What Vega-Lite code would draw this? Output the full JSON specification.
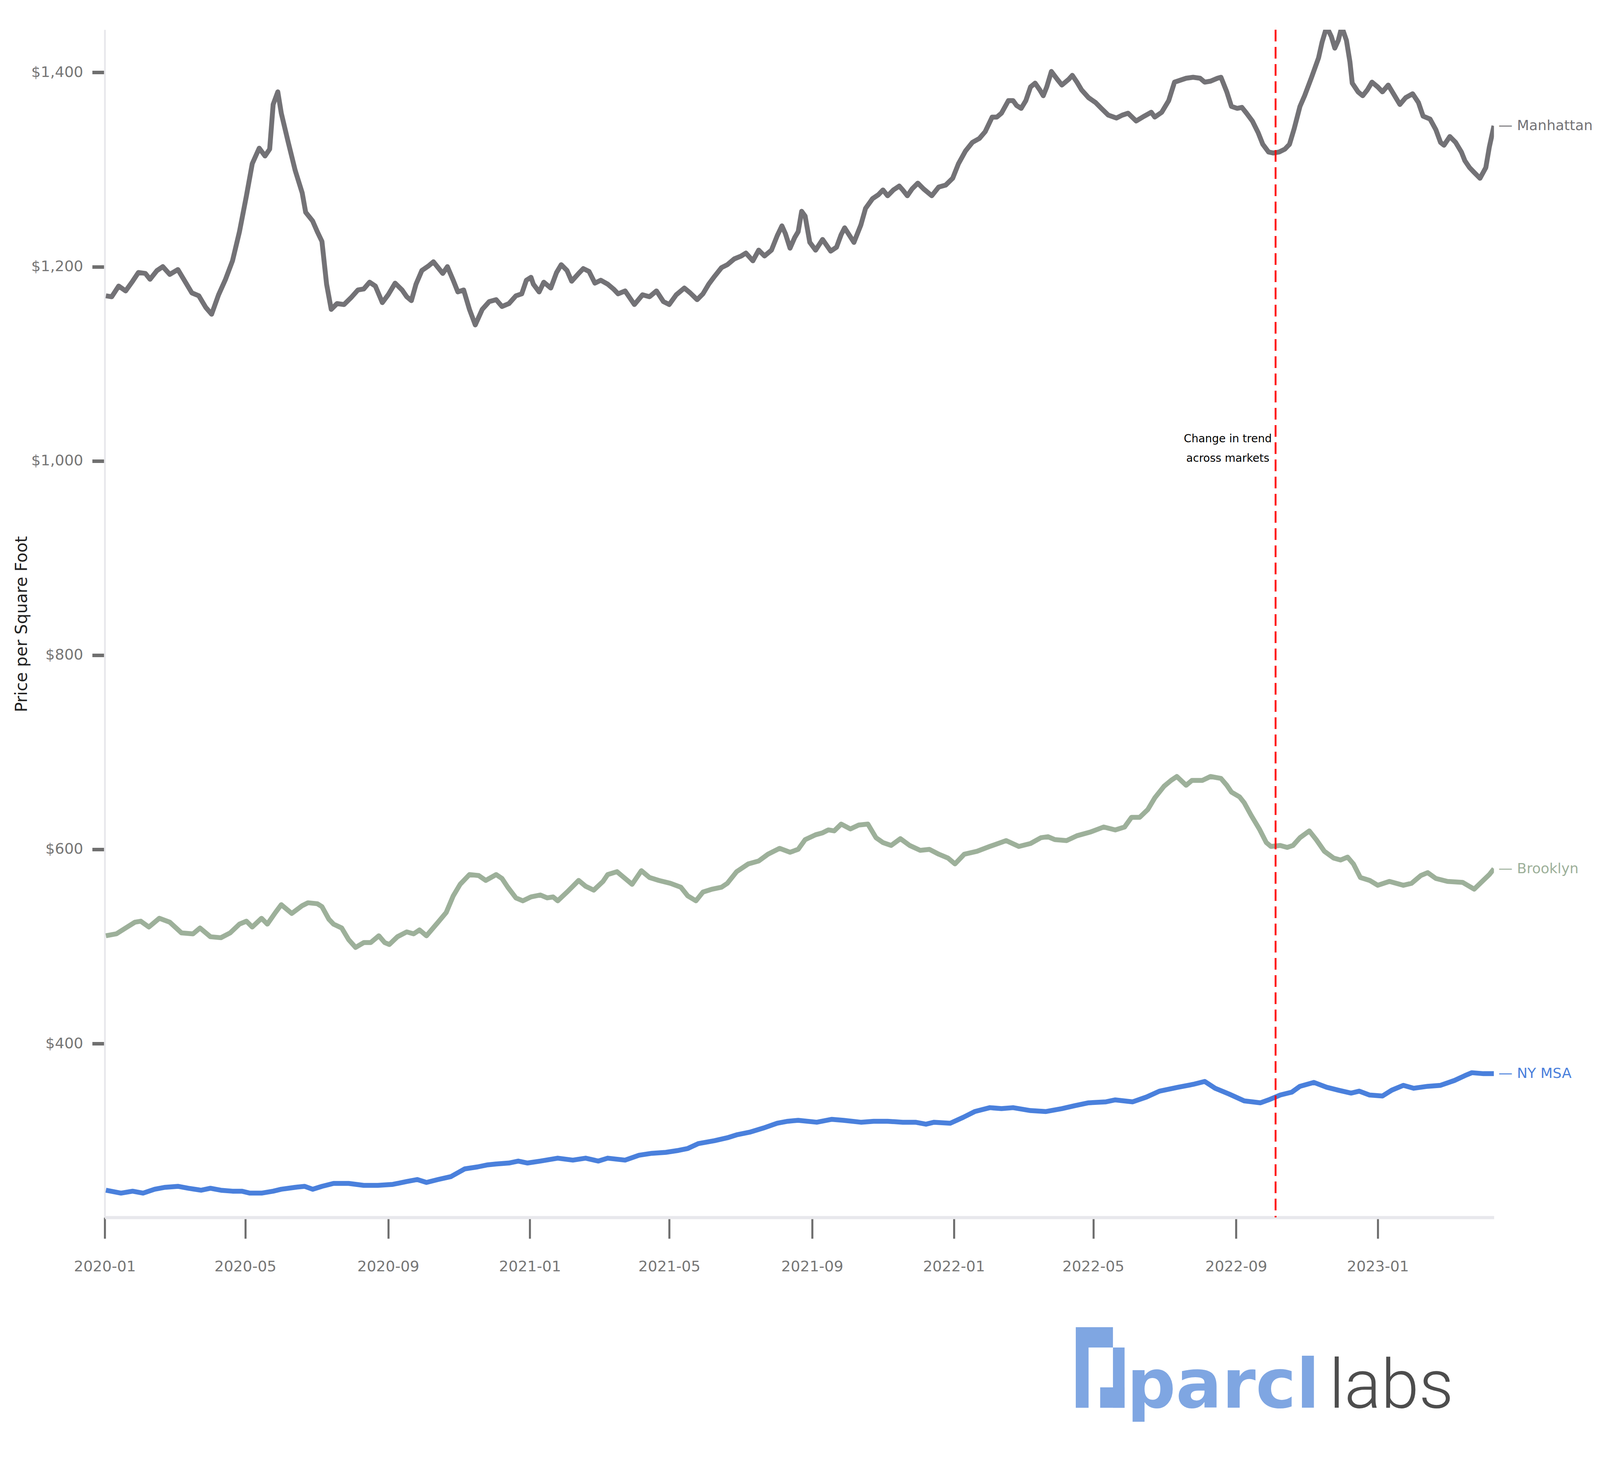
{
  "$schema": "https://vega.github.io/schema/vega-lite/v6.json",
  "width": 3556.4,
  "height": 3040,
  "autosize": "none",
  "padding": {"left": 268.1, "top": 76, "right": 271.5, "bottom": 667},
  "background": "white",
  "datasets": {
    "prices": [
      {"market": "Manhattan", "date": "2020-01-02", "price": 1170},
      {"market": "Manhattan", "date": "2020-01-07", "price": 1169},
      {"market": "Manhattan", "date": "2020-01-13", "price": 1180},
      {"market": "Manhattan", "date": "2020-01-19", "price": 1175},
      {"market": "Manhattan", "date": "2020-01-25", "price": 1185},
      {"market": "Manhattan", "date": "2020-01-30", "price": 1194},
      {"market": "Manhattan", "date": "2020-02-05", "price": 1193},
      {"market": "Manhattan", "date": "2020-02-09", "price": 1187},
      {"market": "Manhattan", "date": "2020-02-15", "price": 1196},
      {"market": "Manhattan", "date": "2020-02-20", "price": 1200},
      {"market": "Manhattan", "date": "2020-02-26", "price": 1192},
      {"market": "Manhattan", "date": "2020-03-04", "price": 1197},
      {"market": "Manhattan", "date": "2020-03-11", "price": 1183},
      {"market": "Manhattan", "date": "2020-03-16", "price": 1173},
      {"market": "Manhattan", "date": "2020-03-22", "price": 1170},
      {"market": "Manhattan", "date": "2020-03-28", "price": 1158},
      {"market": "Manhattan", "date": "2020-04-02", "price": 1151},
      {"market": "Manhattan", "date": "2020-04-08", "price": 1171},
      {"market": "Manhattan", "date": "2020-04-14", "price": 1187},
      {"market": "Manhattan", "date": "2020-04-20", "price": 1206},
      {"market": "Manhattan", "date": "2020-04-26", "price": 1236},
      {"market": "Manhattan", "date": "2020-05-02", "price": 1273},
      {"market": "Manhattan", "date": "2020-05-07", "price": 1306},
      {"market": "Manhattan", "date": "2020-05-13", "price": 1322},
      {"market": "Manhattan", "date": "2020-05-18", "price": 1314},
      {"market": "Manhattan", "date": "2020-05-22", "price": 1321},
      {"market": "Manhattan", "date": "2020-05-25", "price": 1367},
      {"market": "Manhattan", "date": "2020-05-29", "price": 1380},
      {"market": "Manhattan", "date": "2020-06-01", "price": 1358},
      {"market": "Manhattan", "date": "2020-06-07", "price": 1328},
      {"market": "Manhattan", "date": "2020-06-13", "price": 1299},
      {"market": "Manhattan", "date": "2020-06-19", "price": 1276},
      {"market": "Manhattan", "date": "2020-06-22", "price": 1256},
      {"market": "Manhattan", "date": "2020-06-28", "price": 1247},
      {"market": "Manhattan", "date": "2020-07-02", "price": 1236},
      {"market": "Manhattan", "date": "2020-07-06", "price": 1226},
      {"market": "Manhattan", "date": "2020-07-10", "price": 1182},
      {"market": "Manhattan", "date": "2020-07-14", "price": 1156},
      {"market": "Manhattan", "date": "2020-07-19", "price": 1162},
      {"market": "Manhattan", "date": "2020-07-25", "price": 1161},
      {"market": "Manhattan", "date": "2020-07-31", "price": 1168},
      {"market": "Manhattan", "date": "2020-08-06", "price": 1176},
      {"market": "Manhattan", "date": "2020-08-11", "price": 1177},
      {"market": "Manhattan", "date": "2020-08-16", "price": 1184},
      {"market": "Manhattan", "date": "2020-08-21", "price": 1180},
      {"market": "Manhattan", "date": "2020-08-27", "price": 1163},
      {"market": "Manhattan", "date": "2020-09-01", "price": 1171},
      {"market": "Manhattan", "date": "2020-09-07", "price": 1183},
      {"market": "Manhattan", "date": "2020-09-13", "price": 1176},
      {"market": "Manhattan", "date": "2020-09-17", "price": 1169},
      {"market": "Manhattan", "date": "2020-09-21", "price": 1165},
      {"market": "Manhattan", "date": "2020-09-25", "price": 1182},
      {"market": "Manhattan", "date": "2020-09-30", "price": 1196},
      {"market": "Manhattan", "date": "2020-10-06", "price": 1201},
      {"market": "Manhattan", "date": "2020-10-10", "price": 1205},
      {"market": "Manhattan", "date": "2020-10-14", "price": 1199},
      {"market": "Manhattan", "date": "2020-10-18", "price": 1193},
      {"market": "Manhattan", "date": "2020-10-22", "price": 1200},
      {"market": "Manhattan", "date": "2020-10-27", "price": 1186},
      {"market": "Manhattan", "date": "2020-10-31", "price": 1174},
      {"market": "Manhattan", "date": "2020-11-05", "price": 1176},
      {"market": "Manhattan", "date": "2020-11-10", "price": 1156},
      {"market": "Manhattan", "date": "2020-11-15", "price": 1140},
      {"market": "Manhattan", "date": "2020-11-21", "price": 1156},
      {"market": "Manhattan", "date": "2020-11-27", "price": 1164},
      {"market": "Manhattan", "date": "2020-12-03", "price": 1166},
      {"market": "Manhattan", "date": "2020-12-08", "price": 1159},
      {"market": "Manhattan", "date": "2020-12-14", "price": 1162},
      {"market": "Manhattan", "date": "2020-12-20", "price": 1170},
      {"market": "Manhattan", "date": "2020-12-25", "price": 1172},
      {"market": "Manhattan", "date": "2020-12-29", "price": 1186},
      {"market": "Manhattan", "date": "2021-01-02", "price": 1189},
      {"market": "Manhattan", "date": "2021-01-04", "price": 1182},
      {"market": "Manhattan", "date": "2021-01-09", "price": 1174},
      {"market": "Manhattan", "date": "2021-01-13", "price": 1184},
      {"market": "Manhattan", "date": "2021-01-19", "price": 1178},
      {"market": "Manhattan", "date": "2021-01-24", "price": 1194},
      {"market": "Manhattan", "date": "2021-01-28", "price": 1202},
      {"market": "Manhattan", "date": "2021-02-02", "price": 1196},
      {"market": "Manhattan", "date": "2021-02-06", "price": 1185},
      {"market": "Manhattan", "date": "2021-02-12", "price": 1193},
      {"market": "Manhattan", "date": "2021-02-16", "price": 1198},
      {"market": "Manhattan", "date": "2021-02-21", "price": 1195},
      {"market": "Manhattan", "date": "2021-02-26", "price": 1183},
      {"market": "Manhattan", "date": "2021-03-03", "price": 1186},
      {"market": "Manhattan", "date": "2021-03-09", "price": 1182},
      {"market": "Manhattan", "date": "2021-03-14", "price": 1177},
      {"market": "Manhattan", "date": "2021-03-18", "price": 1172},
      {"market": "Manhattan", "date": "2021-03-24", "price": 1175},
      {"market": "Manhattan", "date": "2021-04-01", "price": 1161},
      {"market": "Manhattan", "date": "2021-04-08", "price": 1171},
      {"market": "Manhattan", "date": "2021-04-14", "price": 1169},
      {"market": "Manhattan", "date": "2021-04-20", "price": 1175},
      {"market": "Manhattan", "date": "2021-04-26", "price": 1164},
      {"market": "Manhattan", "date": "2021-05-01", "price": 1161},
      {"market": "Manhattan", "date": "2021-05-07", "price": 1171},
      {"market": "Manhattan", "date": "2021-05-14", "price": 1178},
      {"market": "Manhattan", "date": "2021-05-19", "price": 1173},
      {"market": "Manhattan", "date": "2021-05-25", "price": 1166},
      {"market": "Manhattan", "date": "2021-05-30", "price": 1172},
      {"market": "Manhattan", "date": "2021-06-04", "price": 1182},
      {"market": "Manhattan", "date": "2021-06-09", "price": 1190},
      {"market": "Manhattan", "date": "2021-06-15", "price": 1199},
      {"market": "Manhattan", "date": "2021-06-20", "price": 1202},
      {"market": "Manhattan", "date": "2021-06-26", "price": 1208},
      {"market": "Manhattan", "date": "2021-07-02", "price": 1211},
      {"market": "Manhattan", "date": "2021-07-06", "price": 1214},
      {"market": "Manhattan", "date": "2021-07-12", "price": 1206},
      {"market": "Manhattan", "date": "2021-07-17", "price": 1217},
      {"market": "Manhattan", "date": "2021-07-22", "price": 1211},
      {"market": "Manhattan", "date": "2021-07-28", "price": 1217},
      {"market": "Manhattan", "date": "2021-08-02", "price": 1232},
      {"market": "Manhattan", "date": "2021-08-06", "price": 1242},
      {"market": "Manhattan", "date": "2021-08-09", "price": 1234},
      {"market": "Manhattan", "date": "2021-08-13", "price": 1219},
      {"market": "Manhattan", "date": "2021-08-17", "price": 1230},
      {"market": "Manhattan", "date": "2021-08-20", "price": 1236},
      {"market": "Manhattan", "date": "2021-08-23", "price": 1257},
      {"market": "Manhattan", "date": "2021-08-26", "price": 1252},
      {"market": "Manhattan", "date": "2021-08-30", "price": 1225},
      {"market": "Manhattan", "date": "2021-09-04", "price": 1217},
      {"market": "Manhattan", "date": "2021-09-10", "price": 1228},
      {"market": "Manhattan", "date": "2021-09-17", "price": 1216},
      {"market": "Manhattan", "date": "2021-09-22", "price": 1220},
      {"market": "Manhattan", "date": "2021-09-26", "price": 1233},
      {"market": "Manhattan", "date": "2021-09-29", "price": 1240},
      {"market": "Manhattan", "date": "2021-10-07", "price": 1225},
      {"market": "Manhattan", "date": "2021-10-13", "price": 1243},
      {"market": "Manhattan", "date": "2021-10-17", "price": 1260},
      {"market": "Manhattan", "date": "2021-10-23", "price": 1270},
      {"market": "Manhattan", "date": "2021-10-28", "price": 1274},
      {"market": "Manhattan", "date": "2021-11-01", "price": 1279},
      {"market": "Manhattan", "date": "2021-11-05", "price": 1273},
      {"market": "Manhattan", "date": "2021-11-10", "price": 1279},
      {"market": "Manhattan", "date": "2021-11-15", "price": 1283},
      {"market": "Manhattan", "date": "2021-11-18", "price": 1279},
      {"market": "Manhattan", "date": "2021-11-22", "price": 1273},
      {"market": "Manhattan", "date": "2021-11-26", "price": 1280},
      {"market": "Manhattan", "date": "2021-12-01", "price": 1286},
      {"market": "Manhattan", "date": "2021-12-06", "price": 1280},
      {"market": "Manhattan", "date": "2021-12-13", "price": 1273},
      {"market": "Manhattan", "date": "2021-12-19", "price": 1282},
      {"market": "Manhattan", "date": "2021-12-25", "price": 1284},
      {"market": "Manhattan", "date": "2021-12-31", "price": 1291},
      {"market": "Manhattan", "date": "2022-01-05", "price": 1306},
      {"market": "Manhattan", "date": "2022-01-11", "price": 1319},
      {"market": "Manhattan", "date": "2022-01-17", "price": 1328},
      {"market": "Manhattan", "date": "2022-01-23", "price": 1332},
      {"market": "Manhattan", "date": "2022-01-28", "price": 1339},
      {"market": "Manhattan", "date": "2022-02-03", "price": 1354},
      {"market": "Manhattan", "date": "2022-02-07", "price": 1354},
      {"market": "Manhattan", "date": "2022-02-11", "price": 1358},
      {"market": "Manhattan", "date": "2022-02-17", "price": 1371},
      {"market": "Manhattan", "date": "2022-02-21", "price": 1371},
      {"market": "Manhattan", "date": "2022-02-24", "price": 1366},
      {"market": "Manhattan", "date": "2022-02-28", "price": 1363},
      {"market": "Manhattan", "date": "2022-03-04", "price": 1371},
      {"market": "Manhattan", "date": "2022-03-08", "price": 1385},
      {"market": "Manhattan", "date": "2022-03-12", "price": 1389},
      {"market": "Manhattan", "date": "2022-03-16", "price": 1382},
      {"market": "Manhattan", "date": "2022-03-19", "price": 1376},
      {"market": "Manhattan", "date": "2022-03-22", "price": 1385},
      {"market": "Manhattan", "date": "2022-03-26", "price": 1401},
      {"market": "Manhattan", "date": "2022-03-31", "price": 1393},
      {"market": "Manhattan", "date": "2022-04-04", "price": 1387},
      {"market": "Manhattan", "date": "2022-04-10", "price": 1393},
      {"market": "Manhattan", "date": "2022-04-13", "price": 1397},
      {"market": "Manhattan", "date": "2022-04-17", "price": 1390},
      {"market": "Manhattan", "date": "2022-04-21", "price": 1382},
      {"market": "Manhattan", "date": "2022-04-27", "price": 1374},
      {"market": "Manhattan", "date": "2022-05-03", "price": 1369},
      {"market": "Manhattan", "date": "2022-05-08", "price": 1363},
      {"market": "Manhattan", "date": "2022-05-14", "price": 1356},
      {"market": "Manhattan", "date": "2022-05-21", "price": 1353},
      {"market": "Manhattan", "date": "2022-05-26", "price": 1356},
      {"market": "Manhattan", "date": "2022-05-31", "price": 1358},
      {"market": "Manhattan", "date": "2022-06-07", "price": 1350},
      {"market": "Manhattan", "date": "2022-06-14", "price": 1355},
      {"market": "Manhattan", "date": "2022-06-20", "price": 1359},
      {"market": "Manhattan", "date": "2022-06-23", "price": 1354},
      {"market": "Manhattan", "date": "2022-06-29", "price": 1359},
      {"market": "Manhattan", "date": "2022-07-05", "price": 1371},
      {"market": "Manhattan", "date": "2022-07-10", "price": 1390},
      {"market": "Manhattan", "date": "2022-07-15", "price": 1392},
      {"market": "Manhattan", "date": "2022-07-20", "price": 1394},
      {"market": "Manhattan", "date": "2022-07-26", "price": 1395},
      {"market": "Manhattan", "date": "2022-08-01", "price": 1394},
      {"market": "Manhattan", "date": "2022-08-05", "price": 1390},
      {"market": "Manhattan", "date": "2022-08-10", "price": 1391},
      {"market": "Manhattan", "date": "2022-08-16", "price": 1394},
      {"market": "Manhattan", "date": "2022-08-19", "price": 1395},
      {"market": "Manhattan", "date": "2022-08-24", "price": 1380},
      {"market": "Manhattan", "date": "2022-08-28", "price": 1365},
      {"market": "Manhattan", "date": "2022-09-02", "price": 1363},
      {"market": "Manhattan", "date": "2022-09-06", "price": 1364},
      {"market": "Manhattan", "date": "2022-09-10", "price": 1358},
      {"market": "Manhattan", "date": "2022-09-15", "price": 1350},
      {"market": "Manhattan", "date": "2022-09-20", "price": 1338},
      {"market": "Manhattan", "date": "2022-09-24", "price": 1326},
      {"market": "Manhattan", "date": "2022-09-29", "price": 1318},
      {"market": "Manhattan", "date": "2022-10-03", "price": 1317},
      {"market": "Manhattan", "date": "2022-10-08", "price": 1318},
      {"market": "Manhattan", "date": "2022-10-13", "price": 1321},
      {"market": "Manhattan", "date": "2022-10-17", "price": 1326},
      {"market": "Manhattan", "date": "2022-10-21", "price": 1342},
      {"market": "Manhattan", "date": "2022-10-26", "price": 1365},
      {"market": "Manhattan", "date": "2022-10-30", "price": 1376},
      {"market": "Manhattan", "date": "2022-11-05", "price": 1395},
      {"market": "Manhattan", "date": "2022-11-11", "price": 1415},
      {"market": "Manhattan", "date": "2022-11-14", "price": 1431},
      {"market": "Manhattan", "date": "2022-11-18", "price": 1447},
      {"market": "Manhattan", "date": "2022-11-22", "price": 1437},
      {"market": "Manhattan", "date": "2022-11-25", "price": 1425},
      {"market": "Manhattan", "date": "2022-11-28", "price": 1433},
      {"market": "Manhattan", "date": "2022-12-01", "price": 1447},
      {"market": "Manhattan", "date": "2022-12-05", "price": 1433},
      {"market": "Manhattan", "date": "2022-12-08", "price": 1411},
      {"market": "Manhattan", "date": "2022-12-10", "price": 1389},
      {"market": "Manhattan", "date": "2022-12-15", "price": 1380},
      {"market": "Manhattan", "date": "2022-12-19", "price": 1376},
      {"market": "Manhattan", "date": "2022-12-23", "price": 1382},
      {"market": "Manhattan", "date": "2022-12-27", "price": 1390},
      {"market": "Manhattan", "date": "2023-01-01", "price": 1385},
      {"market": "Manhattan", "date": "2023-01-05", "price": 1380},
      {"market": "Manhattan", "date": "2023-01-10", "price": 1387},
      {"market": "Manhattan", "date": "2023-01-15", "price": 1377},
      {"market": "Manhattan", "date": "2023-01-20", "price": 1367},
      {"market": "Manhattan", "date": "2023-01-25", "price": 1374},
      {"market": "Manhattan", "date": "2023-01-31", "price": 1378},
      {"market": "Manhattan", "date": "2023-02-05", "price": 1369},
      {"market": "Manhattan", "date": "2023-02-09", "price": 1355},
      {"market": "Manhattan", "date": "2023-02-15", "price": 1352},
      {"market": "Manhattan", "date": "2023-02-20", "price": 1341},
      {"market": "Manhattan", "date": "2023-02-24", "price": 1328},
      {"market": "Manhattan", "date": "2023-02-27", "price": 1325},
      {"market": "Manhattan", "date": "2023-03-04", "price": 1334},
      {"market": "Manhattan", "date": "2023-03-09", "price": 1328},
      {"market": "Manhattan", "date": "2023-03-14", "price": 1318},
      {"market": "Manhattan", "date": "2023-03-17", "price": 1309},
      {"market": "Manhattan", "date": "2023-03-21", "price": 1302},
      {"market": "Manhattan", "date": "2023-03-25", "price": 1297},
      {"market": "Manhattan", "date": "2023-03-30", "price": 1291},
      {"market": "Manhattan", "date": "2023-04-04", "price": 1302},
      {"market": "Manhattan", "date": "2023-04-07", "price": 1323},
      {"market": "Manhattan", "date": "2023-04-11", "price": 1345},
      {"market": "Brooklyn", "date": "2020-01-02", "price": 511},
      {"market": "Brooklyn", "date": "2020-01-11", "price": 513},
      {"market": "Brooklyn", "date": "2020-01-19", "price": 519},
      {"market": "Brooklyn", "date": "2020-01-27", "price": 525},
      {"market": "Brooklyn", "date": "2020-02-01", "price": 526},
      {"market": "Brooklyn", "date": "2020-02-08", "price": 520},
      {"market": "Brooklyn", "date": "2020-02-17", "price": 529},
      {"market": "Brooklyn", "date": "2020-02-26", "price": 525},
      {"market": "Brooklyn", "date": "2020-03-07", "price": 514},
      {"market": "Brooklyn", "date": "2020-03-17", "price": 513},
      {"market": "Brooklyn", "date": "2020-03-23", "price": 519},
      {"market": "Brooklyn", "date": "2020-04-01", "price": 510},
      {"market": "Brooklyn", "date": "2020-04-10", "price": 509},
      {"market": "Brooklyn", "date": "2020-04-18", "price": 514},
      {"market": "Brooklyn", "date": "2020-04-26", "price": 523},
      {"market": "Brooklyn", "date": "2020-05-02", "price": 526},
      {"market": "Brooklyn", "date": "2020-05-07", "price": 520},
      {"market": "Brooklyn", "date": "2020-05-15", "price": 529},
      {"market": "Brooklyn", "date": "2020-05-20", "price": 523},
      {"market": "Brooklyn", "date": "2020-05-27", "price": 535},
      {"market": "Brooklyn", "date": "2020-06-01", "price": 543},
      {"market": "Brooklyn", "date": "2020-06-10", "price": 534},
      {"market": "Brooklyn", "date": "2020-06-19", "price": 542},
      {"market": "Brooklyn", "date": "2020-06-24", "price": 545},
      {"market": "Brooklyn", "date": "2020-07-02", "price": 544},
      {"market": "Brooklyn", "date": "2020-07-06", "price": 541},
      {"market": "Brooklyn", "date": "2020-07-12", "price": 528},
      {"market": "Brooklyn", "date": "2020-07-16", "price": 523},
      {"market": "Brooklyn", "date": "2020-07-23", "price": 519},
      {"market": "Brooklyn", "date": "2020-07-29", "price": 507},
      {"market": "Brooklyn", "date": "2020-08-04", "price": 499},
      {"market": "Brooklyn", "date": "2020-08-11", "price": 504},
      {"market": "Brooklyn", "date": "2020-08-17", "price": 504},
      {"market": "Brooklyn", "date": "2020-08-24", "price": 511},
      {"market": "Brooklyn", "date": "2020-08-29", "price": 504},
      {"market": "Brooklyn", "date": "2020-09-02", "price": 502},
      {"market": "Brooklyn", "date": "2020-09-09", "price": 510},
      {"market": "Brooklyn", "date": "2020-09-17", "price": 515},
      {"market": "Brooklyn", "date": "2020-09-23", "price": 513},
      {"market": "Brooklyn", "date": "2020-09-28", "price": 517},
      {"market": "Brooklyn", "date": "2020-10-04", "price": 511},
      {"market": "Brooklyn", "date": "2020-10-14", "price": 525},
      {"market": "Brooklyn", "date": "2020-10-21", "price": 535},
      {"market": "Brooklyn", "date": "2020-10-27", "price": 552},
      {"market": "Brooklyn", "date": "2020-11-02", "price": 564},
      {"market": "Brooklyn", "date": "2020-11-10", "price": 574},
      {"market": "Brooklyn", "date": "2020-11-18", "price": 573},
      {"market": "Brooklyn", "date": "2020-11-24", "price": 568},
      {"market": "Brooklyn", "date": "2020-12-03", "price": 574},
      {"market": "Brooklyn", "date": "2020-12-08", "price": 570},
      {"market": "Brooklyn", "date": "2020-12-13", "price": 561},
      {"market": "Brooklyn", "date": "2020-12-20", "price": 550},
      {"market": "Brooklyn", "date": "2020-12-26", "price": 547},
      {"market": "Brooklyn", "date": "2021-01-02", "price": 551},
      {"market": "Brooklyn", "date": "2021-01-10", "price": 553},
      {"market": "Brooklyn", "date": "2021-01-16", "price": 550},
      {"market": "Brooklyn", "date": "2021-01-21", "price": 551},
      {"market": "Brooklyn", "date": "2021-01-25", "price": 547},
      {"market": "Brooklyn", "date": "2021-02-02", "price": 556},
      {"market": "Brooklyn", "date": "2021-02-12", "price": 568},
      {"market": "Brooklyn", "date": "2021-02-18", "price": 562},
      {"market": "Brooklyn", "date": "2021-02-25", "price": 558},
      {"market": "Brooklyn", "date": "2021-03-05", "price": 567},
      {"market": "Brooklyn", "date": "2021-03-09", "price": 574},
      {"market": "Brooklyn", "date": "2021-03-17", "price": 577},
      {"market": "Brooklyn", "date": "2021-03-23", "price": 571},
      {"market": "Brooklyn", "date": "2021-03-30", "price": 564},
      {"market": "Brooklyn", "date": "2021-04-07", "price": 578},
      {"market": "Brooklyn", "date": "2021-04-14", "price": 571},
      {"market": "Brooklyn", "date": "2021-04-22", "price": 568},
      {"market": "Brooklyn", "date": "2021-05-02", "price": 565},
      {"market": "Brooklyn", "date": "2021-05-11", "price": 561},
      {"market": "Brooklyn", "date": "2021-05-17", "price": 552},
      {"market": "Brooklyn", "date": "2021-05-24", "price": 547},
      {"market": "Brooklyn", "date": "2021-05-30", "price": 556},
      {"market": "Brooklyn", "date": "2021-06-07", "price": 559},
      {"market": "Brooklyn", "date": "2021-06-15", "price": 561},
      {"market": "Brooklyn", "date": "2021-06-20", "price": 565},
      {"market": "Brooklyn", "date": "2021-06-28", "price": 577},
      {"market": "Brooklyn", "date": "2021-07-08", "price": 585},
      {"market": "Brooklyn", "date": "2021-07-17", "price": 588},
      {"market": "Brooklyn", "date": "2021-07-25", "price": 595},
      {"market": "Brooklyn", "date": "2021-08-04", "price": 601},
      {"market": "Brooklyn", "date": "2021-08-13", "price": 597},
      {"market": "Brooklyn", "date": "2021-08-20", "price": 600},
      {"market": "Brooklyn", "date": "2021-08-26", "price": 610},
      {"market": "Brooklyn", "date": "2021-09-04", "price": 615},
      {"market": "Brooklyn", "date": "2021-09-10", "price": 617},
      {"market": "Brooklyn", "date": "2021-09-15", "price": 620},
      {"market": "Brooklyn", "date": "2021-09-20", "price": 619},
      {"market": "Brooklyn", "date": "2021-09-26", "price": 626},
      {"market": "Brooklyn", "date": "2021-10-04", "price": 621},
      {"market": "Brooklyn", "date": "2021-10-11", "price": 625},
      {"market": "Brooklyn", "date": "2021-10-19", "price": 626},
      {"market": "Brooklyn", "date": "2021-10-26", "price": 612},
      {"market": "Brooklyn", "date": "2021-11-01", "price": 607},
      {"market": "Brooklyn", "date": "2021-11-08", "price": 604},
      {"market": "Brooklyn", "date": "2021-11-16", "price": 611},
      {"market": "Brooklyn", "date": "2021-11-24", "price": 604},
      {"market": "Brooklyn", "date": "2021-12-03", "price": 599},
      {"market": "Brooklyn", "date": "2021-12-11", "price": 600},
      {"market": "Brooklyn", "date": "2021-12-19", "price": 595},
      {"market": "Brooklyn", "date": "2021-12-27", "price": 591},
      {"market": "Brooklyn", "date": "2022-01-02", "price": 585},
      {"market": "Brooklyn", "date": "2022-01-10", "price": 595},
      {"market": "Brooklyn", "date": "2022-01-21", "price": 598},
      {"market": "Brooklyn", "date": "2022-02-01", "price": 603},
      {"market": "Brooklyn", "date": "2022-02-15", "price": 609},
      {"market": "Brooklyn", "date": "2022-02-26", "price": 603},
      {"market": "Brooklyn", "date": "2022-03-08", "price": 606},
      {"market": "Brooklyn", "date": "2022-03-17", "price": 612},
      {"market": "Brooklyn", "date": "2022-03-23", "price": 613},
      {"market": "Brooklyn", "date": "2022-03-29", "price": 610},
      {"market": "Brooklyn", "date": "2022-04-08", "price": 609},
      {"market": "Brooklyn", "date": "2022-04-17", "price": 614},
      {"market": "Brooklyn", "date": "2022-04-29", "price": 618},
      {"market": "Brooklyn", "date": "2022-05-10", "price": 623},
      {"market": "Brooklyn", "date": "2022-05-20", "price": 620},
      {"market": "Brooklyn", "date": "2022-05-28", "price": 623},
      {"market": "Brooklyn", "date": "2022-06-03", "price": 633},
      {"market": "Brooklyn", "date": "2022-06-10", "price": 633},
      {"market": "Brooklyn", "date": "2022-06-17", "price": 641},
      {"market": "Brooklyn", "date": "2022-06-23", "price": 653},
      {"market": "Brooklyn", "date": "2022-07-01", "price": 665},
      {"market": "Brooklyn", "date": "2022-07-07", "price": 671},
      {"market": "Brooklyn", "date": "2022-07-12", "price": 675},
      {"market": "Brooklyn", "date": "2022-07-20", "price": 666},
      {"market": "Brooklyn", "date": "2022-07-25", "price": 671},
      {"market": "Brooklyn", "date": "2022-08-03", "price": 671},
      {"market": "Brooklyn", "date": "2022-08-10", "price": 675},
      {"market": "Brooklyn", "date": "2022-08-19", "price": 673},
      {"market": "Brooklyn", "date": "2022-08-24", "price": 666},
      {"market": "Brooklyn", "date": "2022-08-28", "price": 659},
      {"market": "Brooklyn", "date": "2022-09-04", "price": 654},
      {"market": "Brooklyn", "date": "2022-09-08", "price": 648},
      {"market": "Brooklyn", "date": "2022-09-14", "price": 635},
      {"market": "Brooklyn", "date": "2022-09-21", "price": 621},
      {"market": "Brooklyn", "date": "2022-09-27", "price": 607},
      {"market": "Brooklyn", "date": "2022-10-01", "price": 603},
      {"market": "Brooklyn", "date": "2022-10-09", "price": 604},
      {"market": "Brooklyn", "date": "2022-10-15", "price": 602},
      {"market": "Brooklyn", "date": "2022-10-20", "price": 604},
      {"market": "Brooklyn", "date": "2022-10-26", "price": 612},
      {"market": "Brooklyn", "date": "2022-11-03", "price": 619},
      {"market": "Brooklyn", "date": "2022-11-09", "price": 610},
      {"market": "Brooklyn", "date": "2022-11-16", "price": 598},
      {"market": "Brooklyn", "date": "2022-11-24", "price": 591},
      {"market": "Brooklyn", "date": "2022-11-30", "price": 589},
      {"market": "Brooklyn", "date": "2022-12-06", "price": 592},
      {"market": "Brooklyn", "date": "2022-12-11", "price": 585},
      {"market": "Brooklyn", "date": "2022-12-17", "price": 571},
      {"market": "Brooklyn", "date": "2022-12-25", "price": 568},
      {"market": "Brooklyn", "date": "2023-01-01", "price": 563},
      {"market": "Brooklyn", "date": "2023-01-11", "price": 567},
      {"market": "Brooklyn", "date": "2023-01-23", "price": 563},
      {"market": "Brooklyn", "date": "2023-01-30", "price": 565},
      {"market": "Brooklyn", "date": "2023-02-07", "price": 573},
      {"market": "Brooklyn", "date": "2023-02-13", "price": 576},
      {"market": "Brooklyn", "date": "2023-02-20", "price": 570},
      {"market": "Brooklyn", "date": "2023-03-02", "price": 567},
      {"market": "Brooklyn", "date": "2023-03-15", "price": 566},
      {"market": "Brooklyn", "date": "2023-03-25", "price": 559},
      {"market": "Brooklyn", "date": "2023-03-31", "price": 566},
      {"market": "Brooklyn", "date": "2023-04-07", "price": 574},
      {"market": "Brooklyn", "date": "2023-04-11", "price": 580},
      {"market": "NY MSA", "date": "2020-01-02", "price": 249},
      {"market": "NY MSA", "date": "2020-01-15", "price": 246},
      {"market": "NY MSA", "date": "2020-01-25", "price": 248},
      {"market": "NY MSA", "date": "2020-02-03", "price": 246},
      {"market": "NY MSA", "date": "2020-02-13", "price": 250},
      {"market": "NY MSA", "date": "2020-02-22", "price": 252},
      {"market": "NY MSA", "date": "2020-03-04", "price": 253},
      {"market": "NY MSA", "date": "2020-03-13", "price": 251},
      {"market": "NY MSA", "date": "2020-03-24", "price": 249},
      {"market": "NY MSA", "date": "2020-04-01", "price": 251},
      {"market": "NY MSA", "date": "2020-04-10", "price": 249},
      {"market": "NY MSA", "date": "2020-04-20", "price": 248},
      {"market": "NY MSA", "date": "2020-04-28", "price": 248},
      {"market": "NY MSA", "date": "2020-05-05", "price": 246},
      {"market": "NY MSA", "date": "2020-05-15", "price": 246},
      {"market": "NY MSA", "date": "2020-05-25", "price": 248},
      {"market": "NY MSA", "date": "2020-06-01", "price": 250},
      {"market": "NY MSA", "date": "2020-06-13", "price": 252},
      {"market": "NY MSA", "date": "2020-06-21", "price": 253},
      {"market": "NY MSA", "date": "2020-06-28", "price": 250},
      {"market": "NY MSA", "date": "2020-07-06", "price": 253},
      {"market": "NY MSA", "date": "2020-07-16", "price": 256},
      {"market": "NY MSA", "date": "2020-07-29", "price": 256},
      {"market": "NY MSA", "date": "2020-08-11", "price": 254},
      {"market": "NY MSA", "date": "2020-08-23", "price": 254},
      {"market": "NY MSA", "date": "2020-09-05", "price": 255},
      {"market": "NY MSA", "date": "2020-09-17", "price": 258},
      {"market": "NY MSA", "date": "2020-09-26", "price": 260},
      {"market": "NY MSA", "date": "2020-10-04", "price": 257},
      {"market": "NY MSA", "date": "2020-10-14", "price": 260},
      {"market": "NY MSA", "date": "2020-10-25", "price": 263},
      {"market": "NY MSA", "date": "2020-10-31", "price": 267},
      {"market": "NY MSA", "date": "2020-11-06", "price": 271},
      {"market": "NY MSA", "date": "2020-11-17", "price": 273},
      {"market": "NY MSA", "date": "2020-11-25", "price": 275},
      {"market": "NY MSA", "date": "2020-12-03", "price": 276},
      {"market": "NY MSA", "date": "2020-12-14", "price": 277},
      {"market": "NY MSA", "date": "2020-12-22", "price": 279},
      {"market": "NY MSA", "date": "2020-12-30", "price": 277},
      {"market": "NY MSA", "date": "2021-01-10", "price": 279},
      {"market": "NY MSA", "date": "2021-01-25", "price": 282},
      {"market": "NY MSA", "date": "2021-02-07", "price": 280},
      {"market": "NY MSA", "date": "2021-02-18", "price": 282},
      {"market": "NY MSA", "date": "2021-03-01", "price": 279},
      {"market": "NY MSA", "date": "2021-03-09", "price": 282},
      {"market": "NY MSA", "date": "2021-03-24", "price": 280},
      {"market": "NY MSA", "date": "2021-04-05", "price": 285},
      {"market": "NY MSA", "date": "2021-04-16", "price": 287},
      {"market": "NY MSA", "date": "2021-04-28", "price": 288},
      {"market": "NY MSA", "date": "2021-05-09", "price": 290},
      {"market": "NY MSA", "date": "2021-05-17", "price": 292},
      {"market": "NY MSA", "date": "2021-05-26", "price": 297},
      {"market": "NY MSA", "date": "2021-06-09", "price": 300},
      {"market": "NY MSA", "date": "2021-06-20", "price": 303},
      {"market": "NY MSA", "date": "2021-06-28", "price": 306},
      {"market": "NY MSA", "date": "2021-07-10", "price": 309},
      {"market": "NY MSA", "date": "2021-07-21", "price": 313},
      {"market": "NY MSA", "date": "2021-08-02", "price": 318},
      {"market": "NY MSA", "date": "2021-08-11", "price": 320},
      {"market": "NY MSA", "date": "2021-08-20", "price": 321},
      {"market": "NY MSA", "date": "2021-09-05", "price": 319},
      {"market": "NY MSA", "date": "2021-09-18", "price": 322},
      {"market": "NY MSA", "date": "2021-09-28", "price": 321},
      {"market": "NY MSA", "date": "2021-10-13", "price": 319},
      {"market": "NY MSA", "date": "2021-10-24", "price": 320},
      {"market": "NY MSA", "date": "2021-11-05", "price": 320},
      {"market": "NY MSA", "date": "2021-11-18", "price": 319},
      {"market": "NY MSA", "date": "2021-11-29", "price": 319},
      {"market": "NY MSA", "date": "2021-12-08", "price": 317},
      {"market": "NY MSA", "date": "2021-12-15", "price": 319},
      {"market": "NY MSA", "date": "2021-12-29", "price": 318},
      {"market": "NY MSA", "date": "2022-01-09", "price": 324},
      {"market": "NY MSA", "date": "2022-01-19", "price": 330},
      {"market": "NY MSA", "date": "2022-02-01", "price": 334},
      {"market": "NY MSA", "date": "2022-02-11", "price": 333},
      {"market": "NY MSA", "date": "2022-02-21", "price": 334},
      {"market": "NY MSA", "date": "2022-03-08", "price": 331},
      {"market": "NY MSA", "date": "2022-03-21", "price": 330},
      {"market": "NY MSA", "date": "2022-04-04", "price": 333},
      {"market": "NY MSA", "date": "2022-04-15", "price": 336},
      {"market": "NY MSA", "date": "2022-04-27", "price": 339},
      {"market": "NY MSA", "date": "2022-05-12", "price": 340},
      {"market": "NY MSA", "date": "2022-05-20", "price": 342},
      {"market": "NY MSA", "date": "2022-06-04", "price": 340},
      {"market": "NY MSA", "date": "2022-06-16", "price": 345},
      {"market": "NY MSA", "date": "2022-06-27", "price": 351},
      {"market": "NY MSA", "date": "2022-07-13", "price": 355},
      {"market": "NY MSA", "date": "2022-07-26", "price": 358},
      {"market": "NY MSA", "date": "2022-08-05", "price": 361},
      {"market": "NY MSA", "date": "2022-08-14", "price": 354},
      {"market": "NY MSA", "date": "2022-08-26", "price": 348},
      {"market": "NY MSA", "date": "2022-09-08", "price": 341},
      {"market": "NY MSA", "date": "2022-09-22", "price": 339},
      {"market": "NY MSA", "date": "2022-09-29", "price": 342},
      {"market": "NY MSA", "date": "2022-10-09", "price": 347},
      {"market": "NY MSA", "date": "2022-10-19", "price": 350},
      {"market": "NY MSA", "date": "2022-10-26", "price": 356},
      {"market": "NY MSA", "date": "2022-11-07", "price": 360},
      {"market": "NY MSA", "date": "2022-11-18", "price": 355},
      {"market": "NY MSA", "date": "2022-11-28", "price": 352},
      {"market": "NY MSA", "date": "2022-12-09", "price": 349},
      {"market": "NY MSA", "date": "2022-12-16", "price": 351},
      {"market": "NY MSA", "date": "2022-12-25", "price": 347},
      {"market": "NY MSA", "date": "2023-01-05", "price": 346},
      {"market": "NY MSA", "date": "2023-01-13", "price": 352},
      {"market": "NY MSA", "date": "2023-01-23", "price": 357},
      {"market": "NY MSA", "date": "2023-02-01", "price": 354},
      {"market": "NY MSA", "date": "2023-02-13", "price": 356},
      {"market": "NY MSA", "date": "2023-02-24", "price": 357},
      {"market": "NY MSA", "date": "2023-03-08", "price": 362},
      {"market": "NY MSA", "date": "2023-03-17", "price": 367},
      {"market": "NY MSA", "date": "2023-03-23", "price": 370},
      {"market": "NY MSA", "date": "2023-04-02", "price": 369},
      {"market": "NY MSA", "date": "2023-04-11", "price": 369}
    ],
    "notes": [
      {"date": "2022-10-05", "price": 1000, "note": ["Change in trend", "across markets"]}
    ],
    "logo": [
      {"word": "parcl", "date": "2022-05-30", "price": 25},
      {"word": "labs", "date": "2022-11-20", "price": 25}
    ],
    "icon": [
      {"date": "2022-04-16", "date2": "2022-05-18", "price": 108, "price2": 87},
      {"date": "2022-04-16", "date2": "2022-04-27", "price": 108, "price2": 25},
      {"date": "2022-05-18", "date2": "2022-05-28", "price": 87, "price2": 25},
      {"date": "2022-05-07", "date2": "2022-05-28", "price": 46, "price2": 25}
    ]
  },
  "layer": [
    {
      "data": {"name": "prices"},
      "mark": {"type": "line", "strokeWidth": 12.5, "clip": true, "strokeJoin": "round"},
      "encoding": {
        "x": {
          "field": "date",
          "type": "temporal",
          "title": null,
          "scale": {
            "type": "utc",
            "domain": [
              {"year": 2020, "month": 1, "date": 1, "utc": true},
              {"year": 2023, "month": 4, "date": 11, "utc": true}
            ]
          },
          "axis": {
            "format": "%Y-%m",
            "tickCount": {"interval": "month", "step": 4},
            "labelBaseline": "alphabetic",
            "labelPadding": 83,
            "tickSize": 54
          }
        },
        "y": {
          "field": "price",
          "type": "quantitative",
          "title": "Price per Square Foot",
          "scale": {"domain": [221, 1444], "nice": false, "zero": false},
          "axis": {
            "values": [400, 600, 800, 1000, 1200, 1400],
            "format": "$,.0f",
            "tickSize": 32.1,
            "labelPadding": 23.5,
            "titleAngle": 270,
            "titleX": -199.2,
            "titleY": 1521,
            "titleAlign": "center",
            "titleBaseline": "alphabetic"
          }
        },
        "color": {
          "field": "market",
          "type": "nominal",
          "legend": null,
          "scale": {
            "domain": ["Manhattan", "Brooklyn", "NY MSA"],
            "range": ["#737276", "#9db09a", "#4a80dc"]
          }
        },
        "detail": {"field": "market"}
      }
    },
    {
      "data": {"name": "prices"},
      "transform": [
        {"window": [{"op": "row_number", "as": "rank"}], "groupby": ["market"], "sort": [{"field": "date", "order": "descending"}]},
        {"filter": "datum.rank == 1"},
        {"calculate": "'\u2014 ' + datum.market", "as": "label"}
      ],
      "mark": {"type": "text", "align": "left", "baseline": "middle", "dx": 11.5, "fontSize": 36},
      "encoding": {
        "x": {"field": "date", "type": "temporal"},
        "y": {"field": "price", "type": "quantitative"},
        "text": {"field": "label"},
        "color": {"field": "market", "type": "nominal", "legend": null}
      }
    },
    {
      "data": {"name": "notes"},
      "mark": {"type": "rule", "color": "#ff0000", "strokeWidth": 4.6, "strokeDash": [30, 14]},
      "encoding": {
        "x": {"field": "date", "type": "temporal"}
      }
    },
    {
      "data": {"name": "notes"},
      "mark": {"type": "text", "align": "center", "baseline": "alphabetic", "dx": -122.3, "dy": -48, "fontSize": 28, "lineHeight": 50, "color": "#000000"},
      "encoding": {
        "x": {"field": "date", "type": "temporal"},
        "y": {"field": "price", "type": "quantitative"},
        "text": {"field": "note"}
      }
    },
    {
      "data": {"name": "icon"},
      "mark": {"type": "rect", "color": "#7fa6e2"},
      "encoding": {
        "x": {"field": "date", "type": "temporal"},
        "x2": {"field": "date2"},
        "y": {"field": "price", "type": "quantitative"},
        "y2": {"field": "price2"}
      }
    },
    {
      "data": {"name": "logo"},
      "transform": [{"filter": "datum.word == 'parcl'"}],
      "mark": {"type": "text", "align": "left", "baseline": "alphabetic", "fontSize": 175, "fontWeight": "bold", "color": "#7fa6e2"},
      "encoding": {
        "x": {"field": "date", "type": "temporal"},
        "y": {"field": "price", "type": "quantitative"},
        "text": {"field": "word"}
      }
    },
    {
      "data": {"name": "logo"},
      "transform": [{"filter": "datum.word == 'labs'"}],
      "mark": {"type": "text", "align": "left", "baseline": "alphabetic", "fontSize": 175, "font": "Roboto", "fontWeight": 300, "color": "#4d4d4d"},
      "encoding": {
        "x": {"field": "date", "type": "temporal"},
        "y": {"field": "price", "type": "quantitative"},
        "text": {"field": "word"}
      }
    }
  ],
  "config": {
    "font": "DejaVu Sans",
    "view": {"stroke": null},
    "axis": {
      "grid": false,
      "domainColor": "#e8e8ec",
      "tickColor": "#6f6f6f",
      "labelColor": "#767676",
      "labelFontSize": 38,
      "labelFont": "DejaVu Sans",
      "labelLimit": 0,
      "labelFlush": false,
      "labelOverlap": false,
      "labelBound": false,
      "titleFont": "DejaVu Sans",
      "titleFontSize": 42,
      "titleFontWeight": "normal",
      "titleColor": "#222222"
    },
    "axisX": {"domainWidth": 8, "tickWidth": 5.2},
    "axisY": {"domainWidth": 4.6, "tickWidth": 9}
  }
}
